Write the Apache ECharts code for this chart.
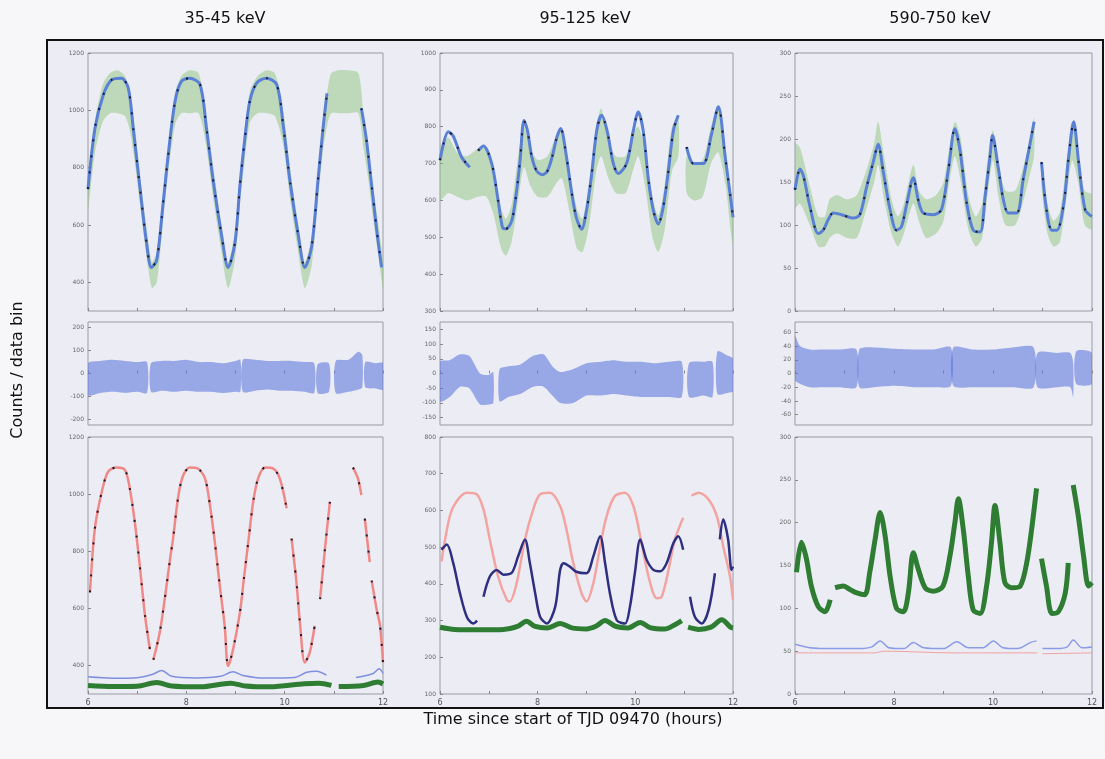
<!DOCTYPE html>
<html><head><meta charset="utf-8">
<script src="https://cdn.jsdelivr.net/npm/echarts@6/dist/echarts.min.js"></script>
<style>html,body{margin:0;padding:0;background:#f7f7f9;}#c{width:1105px;height:759px;}</style>
</head><body><div id="c"></div>
<script>
const N = null;
const titles = ['35-45 keV', '95-125 keV', '590-750 keV'];
const xLabel = 'Time since start of TJD 09470 (hours)';
const yLabel = 'Counts / data bin';
const xTicks = [6, 8, 10, 12];

// ---------- top row: model (blue) and data cloud (green: t, low, high) ----------
const a1Model = [[6.0,725],[6.14,936],[6.31,1053],[6.48,1106],[6.68,1112],[6.82,1077],[6.92,936],[7.06,725],[7.19,539],[7.29,452],[7.40,479],[7.53,680],[7.63,842],[7.77,1031],[7.90,1101],[8.07,1112],[8.28,1089],[8.41,936],[8.55,750],[8.72,561],[8.85,452],[8.99,539],[9.09,737],[9.19,901],[9.29,1031],[9.43,1095],[9.63,1112],[9.84,1089],[9.97,948],[10.11,750],[10.28,561],[10.41,452],[10.55,526],[10.68,760],[10.78,936],[10.86,1059],[10.9,N],[11.56,1007],[11.66,901],[11.77,737],[11.87,585],[11.97,452]];
const a1Data = [[6.0,650,760],[6.14,850,960],[6.3,960,1090],[6.45,990,1130],[6.6,990,1140],[6.75,980,1120],[6.85,930,1060],[6.95,820,950],[7.06,670,770],[7.19,490,590],[7.3,380,470],[7.4,400,510],[7.53,620,720],[7.63,780,880],[7.77,950,1060],[7.9,990,1120],[8.07,990,1140],[8.25,990,1130],[8.4,880,990],[8.55,690,800],[8.72,500,600],[8.85,380,470],[8.99,480,580],[9.09,670,780],[9.19,830,940],[9.3,960,1070],[9.45,990,1120],[9.63,990,1140],[9.8,980,1130],[9.97,880,1000],[10.11,690,800],[10.28,500,600],[10.41,380,470],[10.55,460,560],[10.68,690,800],[10.78,860,970],[10.88,960,1080],[10.95,990,1130],[11.1,990,1140],[11.3,990,1140],[11.5,990,1130],[11.6,870,990],[11.7,760,870],[11.8,620,730],[11.9,500,610],[12.0,380,470]];

const a2Model = [[6.0,709],[6.17,786],[6.27,775],[6.44,718],[6.61,690],[6.7,N],[6.78,735],[6.89,748],[7.06,700],[7.19,600],[7.28,527],[7.35,523],[7.47,545],[7.57,627],[7.64,709],[7.72,817],[7.79,790],[7.88,718],[7.98,680],[8.1,670],[8.2,680],[8.3,720],[8.39,770],[8.47,795],[8.59,718],[8.69,627],[8.79,554],[8.9,522],[9.0,572],[9.1,664],[9.21,790],[9.31,831],[9.42,790],[9.55,700],[9.65,673],[9.82,700],[9.96,790],[10.06,840],[10.16,790],[10.27,654],[10.37,572],[10.47,536],[10.57,581],[10.67,673],[10.78,790],[10.88,831],[10.95,N],[11.05,745],[11.19,700],[11.39,700],[11.56,780],[11.7,854],[11.84,718],[11.94,618],[12.0,554]];
const a2Data = [[6.0,600,740],[6.17,620,770],[6.35,610,730],[6.55,600,720],[6.78,610,740],[6.95,610,740],[7.1,560,680],[7.25,470,580],[7.35,450,550],[7.47,490,590],[7.6,600,720],[7.72,690,800],[7.85,640,740],[8.0,610,710],[8.2,610,720],[8.4,650,780],[8.5,660,790],[8.65,570,680],[8.8,470,580],[8.92,460,550],[9.05,530,650],[9.2,680,800],[9.3,720,850],[9.45,660,760],[9.6,620,720],[9.8,620,720],[9.95,680,780],[10.06,720,800],[10.2,640,740],[10.35,500,610],[10.47,460,560],[10.6,520,640],[10.75,680,800],[10.88,720,820],[10.95,N,N],[11.05,620,720],[11.2,600,700],[11.38,610,710],[11.55,700,800],[11.7,730,860],[11.85,640,740],[11.95,520,620],[12.0,480,580]];

const a3Model = [[6.0,141],[6.1,165],[6.17,157],[6.3,122],[6.47,90],[6.57,94],[6.67,106],[6.77,114],[6.94,112],[7.18,108],[7.31,112],[7.45,145],[7.58,173],[7.68,194],[7.78,163],[7.92,118],[8.05,94],[8.15,98],[8.26,125],[8.39,155],[8.49,129],[8.59,114],[8.8,112],[8.96,118],[9.1,165],[9.23,212],[9.33,188],[9.47,125],[9.6,94],[9.74,92],[9.84,133],[9.94,180],[9.99,204],[10.11,165],[10.21,129],[10.31,114],[10.48,114],[10.61,153],[10.74,192],[10.83,220],[10.9,N],[10.98,173],[11.08,118],[11.19,94],[11.29,94],[11.43,125],[11.53,180],[11.63,220],[11.73,173],[11.86,118],[12.0,110]];
const a3Data = [[6.0,120,195],[6.1,125,190],[6.3,100,145],[6.47,75,110],[6.6,75,110],[6.7,85,130],[6.85,90,135],[7.05,85,130],[7.25,85,135],[7.45,120,165],[7.6,150,195],[7.68,170,220],[7.8,130,180],[7.95,90,130],[8.08,75,110],[8.2,90,125],[8.39,125,170],[8.5,105,140],[8.65,85,130],[8.85,90,135],[9.0,105,150],[9.12,150,190],[9.23,180,220],[9.35,150,200],[9.5,95,135],[9.65,75,110],[9.78,85,125],[9.9,140,180],[10.0,175,210],[10.12,130,170],[10.25,100,140],[10.45,100,140],[10.6,125,165],[10.75,160,200],[10.83,180,225],[10.9,N,N],[10.98,145,175],[11.1,90,125],[11.22,75,105],[11.35,80,115],[11.48,130,170],[11.6,175,220],[11.72,150,185],[11.85,100,140],[12.0,95,135]];

// ---------- middle row: residual clouds (t, low, high) ----------
const b1Resid = [[6.0,-95,45],[6.25,-85,55],[6.5,-80,60],[6.75,-85,55],[7.0,-80,50],[7.2,-85,50],[7.24,N,N],[7.28,-80,45],[7.5,-75,55],[7.75,-80,55],[8.0,-75,60],[8.25,-80,50],[8.5,-80,50],[8.75,-85,45],[9.0,-80,55],[9.1,-80,60],[9.12,N,N],[9.15,-80,60],[9.4,-75,60],[9.65,-70,55],[9.9,-75,55],[10.15,-75,55],[10.4,-80,50],[10.6,-85,45],[10.63,N,N],[10.67,-85,40],[10.9,-80,45],[10.95,N,N],[11.04,-85,55],[11.3,-80,60],[11.5,-70,95],[11.58,-60,80],[11.6,N,N],[11.64,-60,50],[11.85,-65,45],[12.0,-70,45]];
const b2Resid = [[6.0,-95,40],[6.2,-80,45],[6.41,-45,65],[6.6,-50,60],[6.82,-105,0],[7.0,-105,-5],[7.09,-100,5],[7.15,N,N],[7.22,-95,15],[7.4,-80,25],[7.64,-70,30],[7.91,-45,60],[8.12,-45,65],[8.3,-75,25],[8.46,-100,5],[8.73,-100,15],[9.0,-75,35],[9.3,-75,40],[9.55,-70,45],[9.8,-75,40],[10.1,-80,40],[10.4,-80,35],[10.7,-80,40],[10.95,-80,40],[11.0,N,N],[11.1,-80,35],[11.4,-75,40],[11.58,-80,40],[11.62,N,N],[11.68,-70,75],[11.9,-65,60],[12.0,-60,50]];
const b3Resid = [[6.0,-10,55],[6.1,-15,40],[6.3,-20,35],[6.6,-20,35],[6.9,-20,35],[7.24,-20,35],[7.26,N,N],[7.3,-20,35],[7.6,-20,38],[8.0,-18,36],[8.4,-20,35],[8.8,-20,35],[9.15,-18,38],[9.17,N,N],[9.2,-18,38],[9.6,-20,35],[10.0,-20,35],[10.4,-20,38],[10.82,-20,38],[10.86,N,N],[10.9,-20,30],[11.3,-20,30],[11.56,-20,30],[11.62,-35,15],[11.65,N,N],[11.68,-15,32],[12.0,-15,30]];

// ---------- bottom row ----------
const c1Red = [[6.04,656],[6.14,879],[6.28,1008],[6.41,1079],[6.58,1093],[6.75,1085],[6.85,1020],[6.96,891],[7.06,738],[7.16,574],[7.26,456],[7.3,N],[7.33,420],[7.46,516],[7.57,644],[7.67,774],[7.73,844],[7.84,997],[7.94,1067],[8.07,1093],[8.23,1090],[8.38,1055],[8.48,961],[8.58,832],[8.68,680],[8.78,539],[8.85,398],[8.95,456],[9.09,586],[9.17,703],[9.26,832],[9.36,973],[9.46,1055],[9.6,1093],[9.76,1090],[9.9,1055],[10.04,950],[10.08,N],[10.14,844],[10.24,691],[10.31,551],[10.41,410],[10.51,445],[10.61,539],[10.66,N],[10.72,632],[10.82,809],[10.92,973],[11.0,N],[11.39,1093],[11.49,1055],[11.56,997],[11.6,N],[11.63,914],[11.73,762],[11.75,N],[11.77,697],[11.87,597],[11.94,539],[12.0,410]];
const c1Blue = [[6.0,360],[6.5,355],[7.0,357],[7.3,368],[7.5,382],[7.7,362],[8.2,356],[8.7,362],[8.95,378],[9.15,365],[9.6,356],[10.2,358],[10.45,376],[10.65,380],[10.85,366],[10.95,N],[11.45,358],[11.8,372],[11.92,388],[12.0,372]];
const c1Green = [[6.0,330],[6.5,326],[7.0,327],[7.4,340],[7.7,328],[8.3,325],[8.9,338],[9.2,328],[9.7,325],[10.4,336],[10.7,338],[10.95,330],[11.0,N],[11.1,326],[11.6,330],[11.9,342],[12.0,335]];

const c2Red = [[6.03,461],[6.2,584],[6.34,625],[6.55,648],[6.75,644],[6.89,603],[7.02,521],[7.19,420],[7.37,356],[7.43,352],[7.57,402],[7.74,521],[7.91,603],[8.05,644],[8.25,648],[8.46,612],[8.59,548],[8.73,456],[8.9,374],[9.0,352],[9.14,402],[9.28,502],[9.41,584],[9.58,639],[9.79,648],[9.96,612],[10.1,530],[10.27,420],[10.44,361],[10.54,365],[10.68,438],[10.81,521],[10.98,580],[11.05,N],[11.15,640],[11.3,648],[11.5,630],[11.67,584],[11.8,502],[11.94,420],[12.0,356]];
const c2Navy = [[6.03,493],[6.14,507],[6.27,457],[6.41,374],[6.55,310],[6.68,292],[6.76,300],[6.8,N],[6.89,365],[7.02,420],[7.16,438],[7.3,425],[7.47,430],[7.6,475],[7.74,521],[7.84,457],[7.95,374],[8.05,310],[8.19,292],[8.36,338],[8.46,438],[8.53,456],[8.66,447],[8.79,433],[9.0,429],[9.14,475],[9.28,530],[9.38,457],[9.48,374],[9.62,301],[9.79,292],[9.89,338],[9.99,429],[10.1,521],[10.23,466],[10.37,438],[10.51,434],[10.64,456],[10.78,511],[10.88,530],[10.98,493],[11.05,N],[11.12,365],[11.22,310],[11.36,292],[11.5,329],[11.63,429],[11.68,N],[11.73,521],[11.8,575],[11.9,521],[11.97,438],[12.0,447]];
const c2Green = [[6.0,282],[6.3,276],[6.8,275],[7.3,276],[7.6,285],[7.77,298],[7.95,284],[8.2,280],[8.46,292],[8.7,280],[9.0,277],[9.2,285],[9.38,300],[9.6,284],[9.85,280],[10.1,295],[10.3,281],[10.6,277],[10.8,288],[10.95,300],[11.0,N],[11.08,282],[11.3,276],[11.55,282],[11.77,302],[11.95,282],[12.0,280]];

const c3Green = [[6.03,142],[6.13,177],[6.23,158],[6.33,126],[6.47,102],[6.61,96],[6.71,110],[6.76,N],[6.81,124],[6.98,126],[7.11,122],[7.25,118],[7.41,116],[7.51,142],[7.62,181],[7.72,212],[7.82,185],[7.92,138],[8.05,100],[8.19,96],[8.29,118],[8.39,165],[8.49,146],[8.63,124],[8.79,120],[8.99,126],[9.13,161],[9.23,200],[9.3,228],[9.4,192],[9.5,138],[9.6,98],[9.74,94],[9.87,126],[9.97,177],[10.04,220],[10.14,177],[10.24,130],[10.38,124],[10.55,126],[10.68,153],[10.78,192],[10.88,240],[10.93,N],[10.98,158],[11.08,126],[11.19,94],[11.32,96],[11.46,118],[11.52,153],[11.56,N],[11.62,244],[11.72,209],[11.83,161],[11.93,126],[12.0,130]];
const c3Blue = [[6.0,58],[6.3,54],[6.8,53],[7.3,53],[7.55,55],[7.72,62],[7.9,54],[8.2,53],[8.39,60],[8.6,54],[9.0,53],[9.27,61],[9.5,54],[9.8,54],[10.01,62],[10.2,54],[10.5,53],[10.75,60],[10.88,62],[10.94,N],[11.0,53],[11.3,53],[11.5,55],[11.62,63],[11.8,54],[12.0,55]];
const c3Red = [[6.0,48],[7.6,48],[7.8,50],[9.2,48],[10.9,48],[10.94,N],[11.0,47],[12.0,48]];

// ---------- axis settings ----------
const yRanges = [[300,1200],[300,1000],[0,300],[-225,225],[-175,175],[-75,75],[300,1200],[100,800],[0,300]];
const yTickVals = [[400,600,800,1000,1200],[300,400,500,600,700,800,900,1000],[0,50,100,150,200,250,300],[-200,-100,0,100,200],[-150,-100,-50,0,50,100,150],[-60,-40,-20,0,20,40,60],[400,600,800,1000,1200],[100,200,300,400,500,600,700,800],[0,50,100,150,200,250,300]];

const colLeft = [88, 440, 795], colW = [295, 293, 297];
const rowTop = [53, 322, 437], rowH = [258, 103, 257];

const grids = [], xAxes = [], yAxes = [];
for (let r = 0; r < 3; r++) for (let c = 0; c < 3; c++) {
  const i = r * 3 + c;
  grids.push({left: colLeft[c], top: rowTop[r], width: colW[c], height: rowH[r], show: true, borderColor: '#9a9aa2', borderWidth: 1, backgroundColor: 'rgba(0,0,0,0)'});
  xAxes.push({type: 'value', gridIndex: i, min: 6, max: 12, interval: 1,
    axisLine: {show: false}, splitLine: {show: false},
    axisTick: {show: true, inside: true, length: 3, lineStyle: {color: '#888'}},
    axisLabel: {show: r === 2, fontSize: 8, color: '#555', margin: 5, fontFamily: 'DejaVu Sans',
      formatter: v => (xTicks.indexOf(v) >= 0 ? String(v) : '')}});
  yAxes.push({type: 'value', gridIndex: i, min: yRanges[i][0], max: yRanges[i][1],
    axisLine: {show: false}, splitLine: {show: false},
    axisTick: {show: true, inside: true, length: 3, lineStyle: {color: '#888'}, customValues: yTickVals[i]},
    axisLabel: {fontSize: 6, color: '#666', margin: 4, fontFamily: 'DejaVu Sans', customValues: yTickVals[i],
      formatter: v => String(v)}});
}

function band(data, idx, color) {
  return {type: 'custom', xAxisIndex: idx, yAxisIndex: idx, silent: true, clip: true, z: 1,
    data: [0],
    renderItem: function (params, api) {
      const children = [];
      let seg = [];
      const flush = () => {
        if (seg.length > 1) {
          const up = seg.map(p => api.coord([p[0], p[2]]));
          const lo = seg.slice().reverse().map(p => api.coord([p[0], p[1]]));
          children.push({type: 'polygon', shape: {points: up.concat(lo), smooth: 0.25}, style: {fill: color}});
        }
        seg = [];
      };
      data.forEach(p => { if (p[1] == null) flush(); else seg.push(p); });
      flush();
      return {type: 'group', children: children};
    }};
}
function line(data, idx, color, width, extra) {
  return Object.assign({type: 'line', xAxisIndex: idx, yAxisIndex: idx, data: data, showSymbol: false,
    smooth: 0.3, connectNulls: false, silent: true, z: 3,
    lineStyle: {color: color, width: width}}, extra || {});
}
function dots(data, idx) {
  return line(data, idx, '#1a1a2a', 2, {z: 4, lineStyle: {color: '#1a1a2a', width: 2, type: [2, 14]}});
}

const GREEN = 'rgba(132,192,112,0.45)';
const RES = 'rgba(92,118,218,0.58)';
const BLUE = '#5a80d6';

const series = [
  band(a1Data, 0, GREEN), line(a1Model, 0, BLUE, 3), dots(a1Model, 0),
  band(a2Data, 1, GREEN), line(a2Model, 1, BLUE, 3), dots(a2Model, 1),
  band(a3Data, 2, GREEN), line(a3Model, 2, BLUE, 3), dots(a3Model, 2),
  band(b1Resid, 3, RES), band(b2Resid, 4, RES), band(b3Resid, 5, RES),
  line(c1Green, 6, '#2f7d33', 5), line(c1Blue, 6, '#7f8fe0', 1.5), line(c1Red, 6, '#f08888', 2.5), dots(c1Red, 6),
  line(c2Green, 7, '#2f7d33', 5), line(c2Red, 7, '#f4a4a0', 2.5), line(c2Navy, 7, '#2e2f80', 2.5),
  line(c3Red, 8, '#f2a0a0', 1), line(c3Blue, 8, '#8c9be6', 1.5), line(c3Green, 8, '#2f7d33', 5)
];

const titleX = [225, 585, 940];
const graphic = [
  {type: 'rect', z: -10, shape: {x: 47, y: 40, width: 1056, height: 668}, style: {fill: '#ecedf4', stroke: '#111', lineWidth: 2}},
  {type: 'text', x: 18, y: 370, rotation: Math.PI / 2, style: {text: yLabel, font: '16px "DejaVu Sans"', fill: '#111', align: 'center', verticalAlign: 'middle'}},
  {type: 'text', x: 573, y: 720, style: {text: xLabel, font: '16px "DejaVu Sans"', fill: '#111', align: 'center', verticalAlign: 'middle'}}
].concat(titles.map((t, i) => ({type: 'text', x: titleX[i], y: 19, style: {text: t, font: '16px "DejaVu Sans"', fill: '#111', align: 'center', verticalAlign: 'middle'}})));

const chart = echarts.init(document.getElementById('c'), null, {renderer: 'canvas'});
chart.setOption({backgroundColor: '#f7f7f9', animation: false, grid: grids, xAxis: xAxes, yAxis: yAxes, series: series, graphic: graphic});
</script></body></html>
